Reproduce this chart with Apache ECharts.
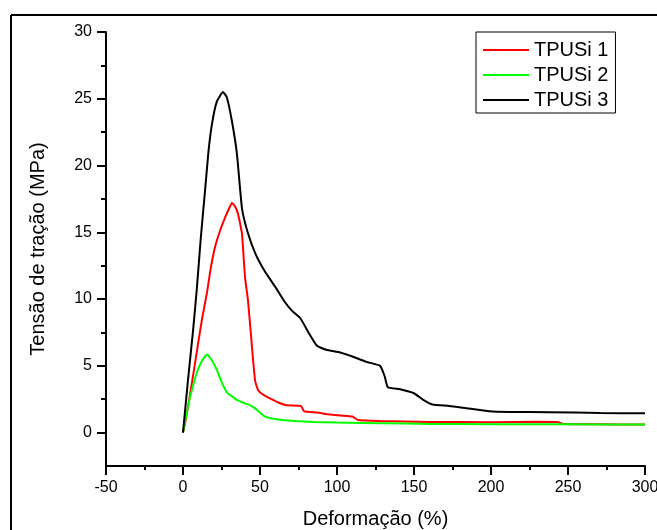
<!DOCTYPE html>
<html>
<head>
<meta charset="utf-8">
<script src="https://cdn.jsdelivr.net/npm/echarts@6/dist/echarts.min.js"></script>
<style>
  html, body { margin: 0; padding: 0; background: #fff; }
  #main { width: 657px; height: 530px; }
</style>
</head>
<body>
<div id="main"></div>
<script>
// dados
const seriesNames = ['TPUSi 1', 'TPUSi 2', 'TPUSi 3']

const tpusi1X = [0, 2, 4.5, 7, 9.7, 12.5, 15.6, 18, 20.8, 24, 27.3, 30, 31.8, 34, 35.7, 37, 38.3, 40.3, 42.2, 44.8, 46.8, 48.7, 52, 58.4, 63, 67.5, 76.6, 78.6, 87, 95.5, 110, 113.6, 128, 160, 200, 230, 243, 247, 270, 300]
const tpusi1Y = [0, 1.1, 2.8, 4.6, 6.6, 8.6, 10.5, 12.3, 13.9, 15.1, 16.1, 16.8, 17.2, 16.9, 16.4, 15.7, 14.9, 11.6, 9.9, 6.4, 3.9, 3.2, 2.85, 2.45, 2.2, 2.05, 2.0, 1.6, 1.5, 1.35, 1.2, 0.95, 0.87, 0.8, 0.78, 0.82, 0.8, 0.65, 0.62, 0.6]

const tpusi2X = [0, 2, 4.5, 7, 9, 12, 15.6, 18.8, 22, 25, 28.6, 32, 35, 40, 43.5, 48, 50.5, 53.2, 58, 64.3, 72.7, 84.4, 100, 130, 160, 200, 250, 300]
const tpusi2Y = [0, 1.2, 2.6, 3.7, 4.5, 5.3, 5.85, 5.4, 4.7, 3.8, 3.0, 2.7, 2.45, 2.2, 2.05, 1.7, 1.45, 1.2, 1.05, 0.95, 0.87, 0.8, 0.75, 0.7, 0.65, 0.63, 0.62, 0.6]

const tpusi3X = [0, 3.2, 6.5, 9, 11.5, 14.3, 16.5, 18.8, 22, 26, 28.5, 31.8, 35, 38.3, 42, 47, 53, 60, 66, 71, 76, 82, 87, 93, 102, 110, 119, 128, 131, 133, 141, 150, 156, 162, 173, 184, 199, 212, 238, 271, 300]
const tpusi3Y = [0, 3.9, 7.6, 10.8, 14.5, 18.1, 21, 23.1, 24.8, 25.5, 25.1, 23.3, 20.9, 16.8, 15, 13.4, 12.1, 10.9, 9.8, 9.1, 8.6, 7.4, 6.5, 6.2, 6.0, 5.7, 5.3, 5.0, 4.2, 3.4, 3.25, 2.95, 2.45, 2.1, 2.0, 1.83, 1.6, 1.55, 1.53, 1.47, 1.45]

const xTicks = [-50, 0, 50, 100, 150, 200, 250, 300]
const yMajorTicks = [0, 5, 10, 15, 20, 25, 30]
const yMinorTicks = [2.5, 7.5, 12.5, 17.5, 22.5, 27.5]

const colors = ['#ff0000', '#00ff00', '#000000']

const pairs = (xs, ys) => xs.map((x, i) => [x, ys[i]])
const font = 'Liberation Sans, Arial, sans-serif'

const chart = echarts.init(document.getElementById('main'))

const mkSeries = (name, data, color) => ({
    name: name,
    type: 'line',
    data: data,
    xAxisIndex: 0,
    yAxisIndex: 0,
    symbol: 'none',
    smooth: 0.15,
    lineStyle: { color: color, width: 2 },
    itemStyle: { color: color }
})

chart.setOption({
    animation: false,
    backgroundColor: '#fff',
    grid: { left: 106, top: 32, right: 12, bottom: 64, containLabel: false, outerBoundsMode: 'none' },
    legend: {
        orient: 'vertical',
        left: 476,
        top: 32,
        padding: [8, 7, 3, 7],
        itemGap: 5,
        itemWidth: 46,
        itemHeight: 2,
        icon: 'rect',
        borderColor: '#000',
        borderWidth: 1,
        textStyle: { fontFamily: font, fontSize: 20, color: '#000', lineHeight: 20 },
        data: seriesNames
    },
    xAxis: {
        type: 'value',
        min: -50,
        max: 300,
        interval: 50,
        name: 'Deformação (%)',
        nameLocation: 'middle',
        nameGap: 43,
        nameTextStyle: { fontFamily: font, fontSize: 20, color: '#000' },
        axisLine: { onZero: false, lineStyle: { color: '#000', width: 2 } },
        axisTick: { length: 9, lineStyle: { color: '#000', width: 2 } },
        minorTick: { show: true, splitNumber: 2, length: 4, lineStyle: { color: '#000', width: 2 } },
        axisLabel: { fontFamily: font, fontSize: 16, color: '#000', margin: 14, customValues: xTicks },
        splitLine: { show: false },
        minorSplitLine: { show: false }
    },
    yAxis: [{
        type: 'value',
        min: -2.5,
        max: 30,
        name: 'Tensão de tração (MPa)',
        nameLocation: 'middle',
        nameGap: 58,
        nameTextStyle: { fontFamily: font, fontSize: 20, color: '#000' },
        axisLine: { onZero: false, lineStyle: { color: '#000', width: 2 } },
        axisTick: { length: 9, lineStyle: { color: '#000', width: 2 }, customValues: yMajorTicks },
        axisLabel: { fontFamily: font, fontSize: 16, color: '#000', margin: 14, customValues: yMajorTicks },
        splitLine: { show: false }
    }, {
        type: 'value',
        position: 'left',
        offset: 0,
        min: -2.5,
        max: 30,
        axisLine: { show: false, onZero: false },
        axisTick: { length: 5, lineStyle: { color: '#000', width: 2 }, customValues: yMinorTicks },
        axisLabel: { show: false },
        splitLine: { show: false }
    }],
    graphic: [
        { type: 'line', shape: { x1: 11, y1: 15, x2: 657, y2: 15 }, style: { stroke: '#000', lineWidth: 2 } },
        { type: 'line', shape: { x1: 11, y1: 15, x2: 11, y2: 530 }, style: { stroke: '#000', lineWidth: 2 } }
    ],
    series: [
        mkSeries(seriesNames[0], pairs(tpusi1X, tpusi1Y), colors[0]),
        mkSeries(seriesNames[1], pairs(tpusi2X, tpusi2Y), colors[1]),
        mkSeries(seriesNames[2], pairs(tpusi3X, tpusi3Y), colors[2])
    ]
})

window.addEventListener('resize', function () {
    chart && chart.resize()
})
</script>
</body>
</html>
